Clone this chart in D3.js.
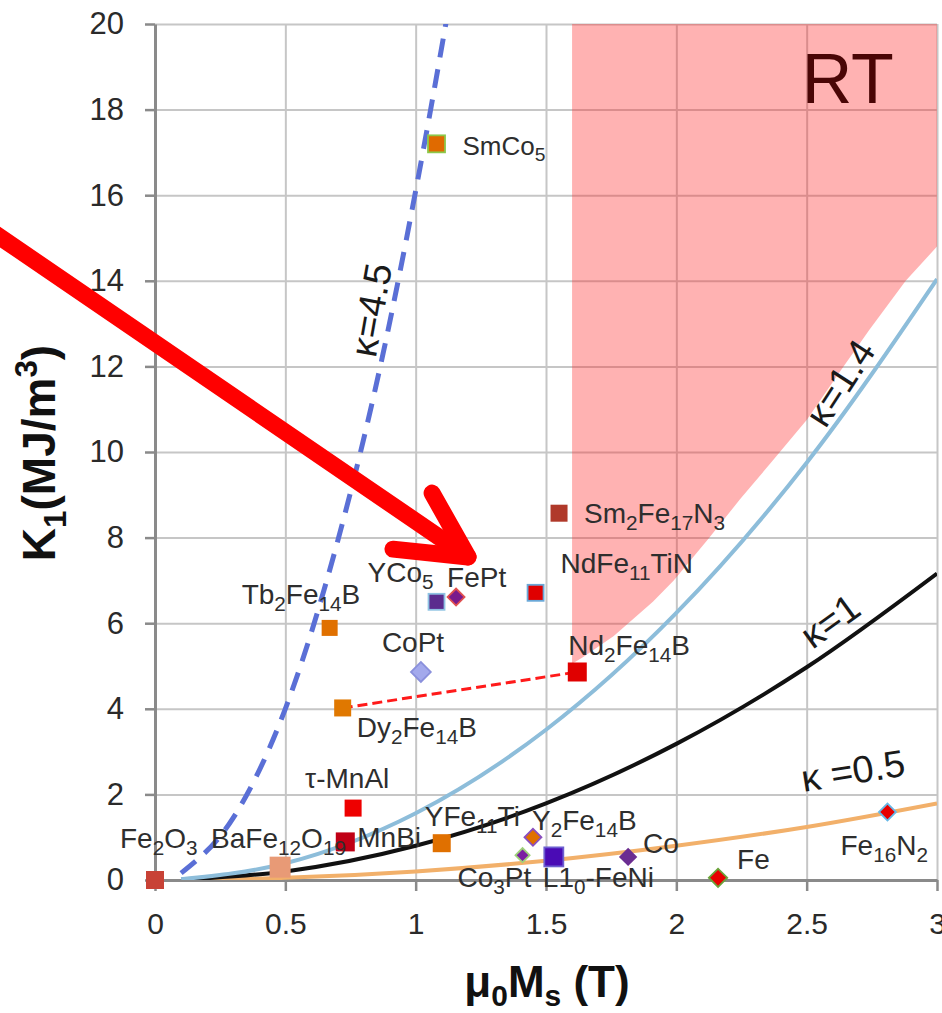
<!DOCTYPE html>
<html>
<head>
<meta charset="utf-8">
<script src="https://cdn.jsdelivr.net/npm/d3@7"></script>
<style>
  html, body { margin: 0; padding: 0; background: #fff; }
  svg { display: block; font-family: "Liberation Sans", Arial, sans-serif; }
</style>
</head>
<body>
<svg id="chart" width="942" height="1013"></svg>
<script>
// ---- Permanent-magnet materials: polarisation μ0Ms (T) vs. anisotropy K1 (MJ/m³) ----
const materials = ["Fe_2O_3", "BaFe_12O_19", "MnBi", "τ-MnAl", "YFe_11Ti", "Y_2Fe_14B", "Co_3Pt",
  "L1_0-FeNi", "Co", "Fe", "Fe_16N_2", "Dy_2Fe_14B", "Nd_2Fe_14B", "CoPt", "Tb_2Fe_14B",
  "YCo_5", "FePt", "NdFe_11TiN", "Sm_2Fe_17N_3", "SmCo_5"];
const msValues = [0, 0.48, 0.73, 0.76, 1.10, 1.45, 1.41, 1.53, 1.815, 2.16, 2.81,
  0.72, 1.62, 1.02, 0.67, 1.08, 1.155, 1.46, 1.55, 1.08];
const k1Values = [0, 0.30, 0.89, 1.68, 0.86, 1.0, 0.58, 0.54, 0.54, 0.05, 1.59,
  4.02, 4.86, 4.86, 5.89, 6.5, 6.61, 6.71, 8.57, 17.2];

// tie line between the two heavy-rare-earth variants
const tieLine = ["Dy_2Fe_14B", "Nd_2Fe_14B"];

// ---- hardness-parameter curves κ ----
const kappaNames = ["κ =0.5", "κ=1", "κ=1.4", "κ=4.5"];
const msCurve = [0.1, 0.5, 1, 1.5, 2, 2.5, 3];
const k1Kappa05 = [0.002, 0.05, 0.2, 0.45, 0.8, 1.24, 1.79];
const k1Kappa10 = [0.008, 0.2, 0.8, 1.79, 3.18, 4.97, 7.16];
const k1Kappa14 = [0.016, 0.39, 1.56, 3.51, 6.24, 9.75, 14.04];
const msKappa45 = [0.1, 0.3, 0.5, 0.7, 0.875, 1.0, 1.13];
const k1Kappa45 = [0.16, 1.45, 4.0, 7.9, 12.3, 16.1, 20.5];

// ---- room-temperature target region ----
const rtMs = [1.6, 3, 3, 2.88, 2.74, 2.63, 2.5, 2.37, 2.245, 2.12, 1.99, 1.91, 1.76, 1.64, 1.6];
const rtK1 = [20, 20, 14.8, 14.0, 12.85, 11.9, 10.75, 9.8, 8.9, 7.95, 7.0, 6.5, 5.7, 5.2, 5.05];

// ---- axes ----
const xTicks = [0, 0.5, 1, 1.5, 2, 2.5, 3];
const xTickLabels = ["0", "0.5", "1", "1.5", "2", "2.5", "3"];
const yTicks = [0, 2, 4, 6, 8, 10, 12, 14, 16, 18, 20];
const yTickLabels = ["0", "2", "4", "6", "8", "10", "12", "14", "16", "18", "20"];
const xTitle = "μ_0M_s (T)";
const yTitle = "K_1(MJ/m^3)";

// ---- presentation ----
const markerStyle = {
  "Fe_2O_3":      { shape: "sq", s: 18, fill: "#c84236", dx: -35, dy: -32 },
  "BaFe_12O_19":  { shape: "sq", s: 21, fill: "#e89a76", dx: -69, dy: -19 },
  "MnBi":         { shape: "sq", s: 19, fill: "#c00015", dx: 12,  dy: 5 },
  "τ-MnAl":       { shape: "sq", s: 17, fill: "#ee0000", dx: -48, dy: -20 },
  "YFe_11Ti":     { shape: "sq", s: 18, fill: "#e07000", dx: -17, dy: -17 },
  "Y_2Fe_14B":    { shape: "di", s: 12, fill: "#e07000", stroke: "#8a4fbf", dx: -1, dy: -7 },
  "Co_3Pt":       { shape: "di", s: 10, fill: "#7b1fa2", stroke: "#9ed07a", dx: -65, dy: 32 },
  "L1_0-FeNi":    { shape: "sq", s: 19, fill: "#4a0bb5", stroke: "#6d5fd0", dx: -11, dy: 30 },
  "Co":           { shape: "di", s: 13, fill: "#6b2d91", dx: 15, dy: -4 },
  "Fe":           { shape: "di", s: 13, fill: "#e80000", stroke: "#6aa33a", dx: 19, dy: -9 },
  "Fe_16N_2":     { shape: "di", s: 12, fill: "#e80000", stroke: "#66b8e8", dx: -47, dy: 43 },
  "Dy_2Fe_14B":   { shape: "sq", s: 17, fill: "#e07800", dx: 14, dy: 29 },
  "Nd_2Fe_14B":   { shape: "sq", s: 19, fill: "#e00000", dx: -9, dy: -17 },
  "CoPt":         { shape: "di", s: 14, fill: "#a3a9ec", stroke: "#8a90dc", dx: -39, dy: -20 },
  "Tb_2Fe_14B":   { shape: "sq", s: 16, fill: "#e07000", dx: -88, dy: -24 },
  "YCo_5":        { shape: "sq", s: 16, fill: "#5b2d8e", stroke: "#8fc3e3", dx: -69, dy: -20 },
  "FePt":         { shape: "di", s: 12, fill: "#7a1a8c", stroke: "#e05050", dx: -9, dy: -10 },
  "NdFe_11TiN":   { shape: "sq", s: 16, fill: "#e00000", stroke: "#6aa8d8", dx: 25, dy: -20 },
  "Sm_2Fe_17N_3": { shape: "sq", s: 17, fill: "#b0392a", dx: 25, dy: 10 },
  "SmCo_5":       { shape: "sq", s: 17, fill: "#e06a00", stroke: "#8cc84a", dx: 26, dy: 11, fs: 26 }
};

const svg = d3.select("#chart");
const x = d3.scaleLinear().domain([0, 3]).range([155, 937]);
const y = d3.scaleLinear().domain([0, 20]).range([880, 24]);

// text with _sub and ^sup fragments
function rich(textSel, str, size, subRatio, subShift) {
  const ratio = subRatio || 0.72;
  const drop = subShift || 0.24;
  const re = /([_^])([0-9a-z]+)/g;
  const parts = [];
  let last = 0, m;
  while ((m = re.exec(str))) {
    if (m.index > last) parts.push({ t: str.slice(last, m.index), k: "" });
    parts.push({ t: m[2], k: m[1] });
    last = re.lastIndex;
  }
  if (last < str.length) parts.push({ t: str.slice(last), k: "" });
  let shift = 0;
  parts.forEach(p => {
    const target = p.k === "_" ? drop * size : p.k === "^" ? -0.4 * size : 0;
    textSel.append("tspan")
      .attr("dy", target - shift)
      .style("font-size", (p.k ? ratio * size : size) + "px")
      .text(p.t);
    shift = target;
  });
}

svg.append("defs").append("clipPath").attr("id", "plot")
  .append("rect").attr("x", x(0)).attr("y", y(20)).attr("width", x(3) - x(0)).attr("height", y(0) - y(20));

// grid
const grid = svg.append("g");
grid.append("g").attr("transform", `translate(0,${y(0)})`)
  .call(d3.axisBottom(x).tickValues(xTicks.slice(1)).tickSize(-(y(0) - y(20))).tickFormat(""))
  .call(g => g.select(".domain").remove())
  .call(g => g.selectAll("line").attr("stroke", "#c6c6c6").attr("stroke-width", 2));
grid.append("g").attr("transform", `translate(${x(0)},0)`)
  .call(d3.axisLeft(y).tickValues(yTicks.slice(1)).tickSize(-(x(3) - x(0))).tickFormat(""))
  .call(g => g.select(".domain").remove())
  .call(g => g.selectAll("line").attr("stroke", "#c6c6c6").attr("stroke-width", 2));

// room-temperature region
svg.append("path")
  .datum(rtMs.map((v, i) => [v, rtK1[i]]))
  .attr("d", d3.line().x(d => x(d[0])).y(d => y(d[1])))
  .attr("fill", "#ff2a2a").attr("fill-opacity", 0.36).attr("stroke", "none");

// axes
const axStyle = g => {
  g.select(".domain").attr("stroke", "#8a8a8a").attr("stroke-width", 3);
  g.selectAll(".tick line").attr("stroke", "#8a8a8a").attr("stroke-width", 2.5);
  g.selectAll(".tick text").attr("fill", "#2a2a2a").style("font-size", "31px");
};
svg.append("g").attr("transform", `translate(0,${y(0)})`)
  .call(d3.axisBottom(x).tickValues(xTicks).tickFormat((d, i) => xTickLabels[i])
    .tickSize(11).tickSizeOuter(0).tickPadding(22))
  .call(axStyle)
  .call(g => g.selectAll(".tick text").style("font-size", "30px"));
svg.append("g").attr("transform", `translate(${x(0)},0)`)
  .call(d3.axisLeft(y).tickValues(yTicks).tickFormat((d, i) => yTickLabels[i])
    .tickSize(10).tickSizeOuter(0).tickPadding(21))
  .call(axStyle);

// axis titles
const xt = svg.append("text").attr("x", 547).attr("y", 997).attr("text-anchor", "middle")
  .attr("font-weight", "bold").attr("fill", "#111");
rich(xt, xTitle, 44, 0.68, 0.2);
const yt = svg.append("text").attr("transform", "translate(55,453) rotate(-90)")
  .attr("text-anchor", "middle").attr("font-weight", "bold").attr("fill", "#111");
rich(yt, yTitle, 46, 0.68, 0.24);

// κ curves
const curves = svg.append("g").attr("clip-path", "url(#plot)");
const line = d3.line().x(d => x(d[0])).y(d => y(d[1])).curve(d3.curveMonotoneX);
const curveDefs = [
  { ms: msCurve, k: k1Kappa05, color: "#f2b06a", w: 4 },
  { ms: msCurve, k: k1Kappa10, color: "#111111", w: 4 },
  { ms: msCurve, k: k1Kappa14, color: "#8dbdda", w: 4 },
  { ms: msKappa45, k: k1Kappa45, color: "#5a6fd6", w: 5, dash: "19,12" }
];
curveDefs.forEach(c => {
  curves.append("path")
    .datum(c.ms.map((v, i) => [v, c.k[i]]))
    .attr("d", line)
    .attr("fill", "none").attr("stroke", c.color).attr("stroke-width", c.w)
    .attr("stroke-dasharray", c.dash || null);
});

// κ labels
const kappaPos = [[2.678, 2.55, -9], [2.59, 6.05, -36], [2.629, 11.61, -57], [0.829, 13.32, -80]];
kappaNames.forEach((n, i) => {
  const p = kappaPos[i];
  svg.append("text")
    .attr("transform", `translate(${x(p[0])},${y(p[1])}) rotate(${p[2]})`)
    .attr("text-anchor", "middle").attr("dominant-baseline", "central")
    .attr("fill", "#1a1a1a").style("font-size", "38px")
    .text(n);
});

// tie line Dy2Fe14B – Nd2Fe14B
const ia = materials.indexOf(tieLine[0]), ib = materials.indexOf(tieLine[1]);
svg.append("line")
  .attr("x1", x(msValues[ia])).attr("y1", y(k1Values[ia]))
  .attr("x2", x(msValues[ib])).attr("y2", y(k1Values[ib]))
  .attr("stroke", "#ff1a1a").attr("stroke-width", 3).attr("stroke-dasharray", "10,5");

// markers
const marks = svg.append("g");
materials.forEach((name, i) => {
  const st = markerStyle[name];
  const g = marks.append("g")
    .attr("transform", `translate(${x(msValues[i])},${y(k1Values[i])})${st.shape === "di" ? " rotate(45)" : ""}`);
  g.append("rect")
    .attr("x", -st.s / 2).attr("y", -st.s / 2).attr("width", st.s).attr("height", st.s)
    .attr("fill", st.fill)
    .attr("stroke", st.stroke || "none").attr("stroke-width", st.stroke ? 1.8 : 0);
});

// material labels
materials.forEach((name, i) => {
  const st = markerStyle[name];
  const fs = st.fs || 28;
  const t = svg.append("text")
    .attr("x", x(msValues[i]) + st.dx).attr("y", y(k1Values[i]) + st.dy)
    .attr("fill", "#2e2e2e");
  rich(t, name, fs, 0.74, 0.24);
});

// region tag
svg.append("text").attr("x", x(2.481)).attr("y", y(18.15))
  .attr("fill", "#4a0606").style("font-size", "70px").text("RT");

// highlight arrow
const arrowShaft = [[-0.7, 15.46], [1.201, 7.547]];
const arrowHead = [[0.913, 7.73], [1.201, 7.547], [1.063, 9.04]];
const aLine = d3.line().x(d => x(d[0])).y(d => y(d[1]));
const arrow = svg.append("g").attr("fill", "none").attr("stroke", "#ff0000")
  .attr("stroke-width", 17).attr("stroke-linecap", "round").attr("stroke-linejoin", "round");
arrow.append("path").attr("d", aLine(arrowShaft));
arrow.append("path").attr("d", aLine(arrowHead));
</script>
</body>
</html>
